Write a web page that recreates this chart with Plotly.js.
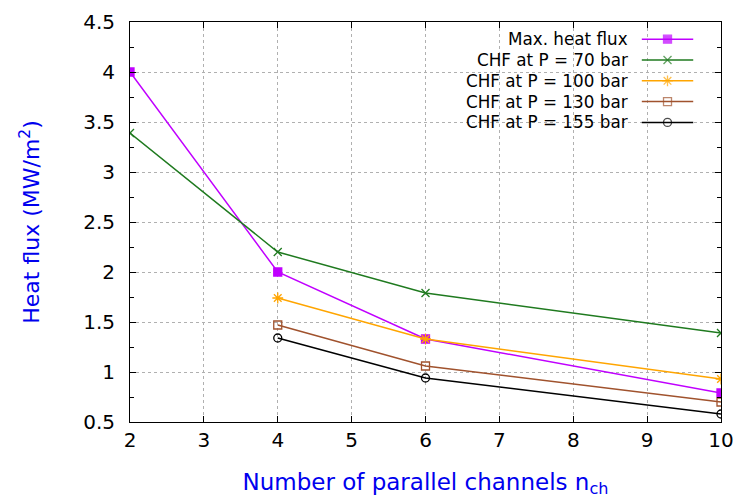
<!DOCTYPE html>
<html>
<head>
<meta charset="utf-8">
<script src="https://cdn.plot.ly/plotly-3.0.1.min.js"></script>
<style>html,body{margin:0;padding:0;background:#fff;}#chart{width:739px;height:501px;}</style>
</head>
<body>
<div id="chart"></div>
<script>
// ---- data ----
const seriesNames = ["Max. heat flux", "CHF at P = 70 bar", "CHF at P = 100 bar", "CHF at P = 130 bar", "CHF at P = 155 bar"];
const xMaxFlux = [2, 4, 6, 10];
const yMaxFlux = [4.0, 2.0, 1.33, 0.79];
const xCHF70 = [2, 4, 6, 10];
const yCHF70 = [3.39, 2.2, 1.79, 1.39];
const xCHF100 = [4, 6, 10];
const yCHF100 = [1.74, 1.33, 0.93];
const xCHF130 = [4, 6, 10];
const yCHF130 = [1.47, 1.06, 0.70];
const xCHF155 = [4, 6, 10];
const yCHF155 = [1.34, 0.94, 0.58];
const xTicks = [2, 3, 4, 5, 6, 7, 8, 9, 10];
const yTicks = [0.5, 1, 1.5, 2, 2.5, 3, 3.5, 4, 4.5];

// ---- styles ----
const styles = [
  {color: "#c000ff", symbol: "square", size: 8},
  {color: "#1f7a1f", symbol: "x-thin-open", size: 8},
  {color: "#ffa500", symbol: "asterisk-open", size: 9},
  {color: "#a0522d", symbol: "square-open", size: 8},
  {color: "#000000", symbol: "circle-open", size: 8}
];
const xs = [xMaxFlux, xCHF70, xCHF100, xCHF130, xCHF155];
const ys = [yMaxFlux, yCHF70, yCHF100, yCHF130, yCHF155];

const font = "DejaVu Sans, Liberation Sans, Arial, sans-serif";
const traces = [];
for (let i = 0; i < seriesNames.length; i++) {
  const s = styles[i];
  traces.push({
    x: xs[i], y: ys[i], name: seriesNames[i], type: "scatter", mode: "lines+markers",
    line: {color: s.color, width: 1.5},
    marker: {symbol: s.symbol, size: s.size, color: s.color, line: {color: s.color, width: 1.3}},
    showlegend: false, hoverinfo: "x+y"
  });
}

// custom gnuplot-style legend (text right-aligned, sample on the right)
const legTextX = 0.846, legLineX0 = 0.866, legLineX1 = 0.953, legY0 = 0.957, legStep = 0.052;
const annotations = [];
for (let i = 0; i < seriesNames.length; i++) {
  const s = styles[i];
  const yy = legY0 - i * legStep;
  annotations.push({
    xref: "paper", yref: "paper", x: legTextX, y: yy, xanchor: "right", yanchor: "middle",
    text: seriesNames[i], showarrow: false, font: {family: font, size: 16.8, color: "#000"}
  });
  traces.push({
    x: [legLineX0, (legLineX0 + legLineX1) / 2, legLineX1], y: [yy, yy, yy],
    xaxis: "x2", yaxis: "y2", type: "scatter", mode: "lines+markers",
    line: {color: s.color, width: 1.5},
    marker: {symbol: s.symbol, size: [0, s.size, 0], color: s.color, line: {color: s.color, width: 1.3}},
    showlegend: false, hoverinfo: "skip"
  });
}

const layout = {
  width: 739, height: 501,
  margin: {l: 130, r: 18, t: 22, b: 79},
  paper_bgcolor: "#fff", plot_bgcolor: "#fff",
  font: {family: font, size: 20, color: "#000"},
  showlegend: false,
  xaxis: {
    range: [2, 10], tickvals: xTicks, ticktext: xTicks.map(String),
    showline: true, linecolor: "#000", linewidth: 1, mirror: "allticks",
    ticks: "inside", ticklen: 6, tickcolor: "#000",
    showgrid: true, gridcolor: "#b0b0b0", griddash: "dot", gridwidth: 1,
    zeroline: false, tickfont: {size: 20},
    title: {text: "Number of parallel channels n<sub>ch</sub>", font: {size: 23, color: "#0000ee"}, standoff: 22}
  },
  yaxis: {
    range: [0.5, 4.5], tickvals: yTicks, ticktext: yTicks.map(String),
    showline: true, linecolor: "#000", linewidth: 1, mirror: "allticks",
    ticks: "inside", ticklen: 6, tickcolor: "#000",
    minor: {dtick: 0.25, ticks: "inside", ticklen: 4, tickcolor: "#000", showgrid: false},
    showgrid: true, gridcolor: "#b0b0b0", griddash: "dot", gridwidth: 1,
    zeroline: false, tickfont: {size: 20}, ticklabelstandoff: 10,
    title: {text: "Heat flux (MW/m<sup>2</sup>)", font: {size: 22, color: "#0000ee"}, standoff: 37}
  },
  xaxis2: {overlaying: "x", range: [0, 1], visible: false, fixedrange: true},
  yaxis2: {overlaying: "y", range: [0, 1], visible: false, fixedrange: true},
  annotations: annotations
};

Plotly.newPlot("chart", traces, layout, {displayModeBar: false, staticPlot: true});
</script>
</body>
</html>
